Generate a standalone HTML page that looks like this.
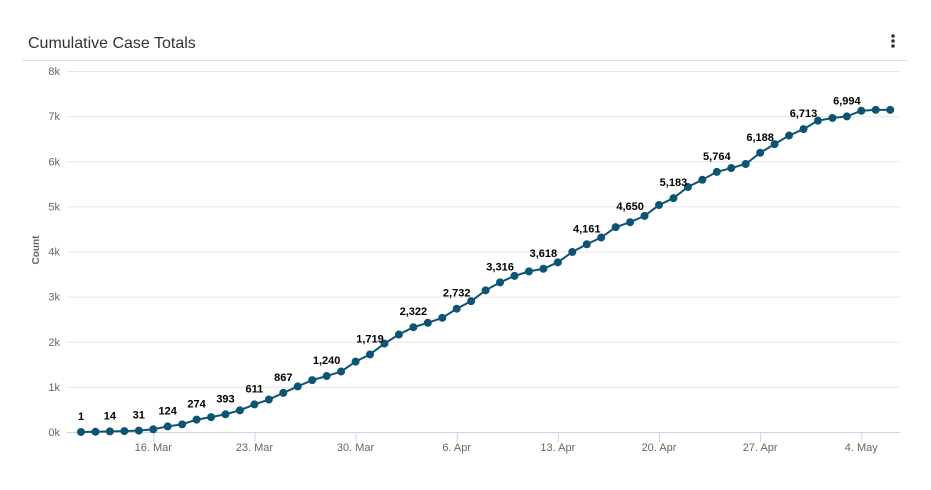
<!DOCTYPE html>
<html><head><meta charset="utf-8"><style>
body{margin:0;background:#fff;width:931px;height:485px;overflow:hidden;font-family:"Liberation Sans",sans-serif}
</style></head><body>
<svg width="931" height="485" xmlns="http://www.w3.org/2000/svg" font-family="Liberation Sans, sans-serif">
<text x="28" y="48" font-size="16" fill="#333">Cumulative Case Totals</text>
<circle cx="893" cy="36" r="1.8" fill="#333"/><circle cx="893" cy="41" r="1.8" fill="#333"/><circle cx="893" cy="46" r="1.8" fill="#333"/>
<line x1="22" y1="60.5" x2="908" y2="60.5" stroke="#e0e0e0"/>
<g id="grid" stroke="#e6e6e6"></g>
<g id="yl" font-size="11" fill="#666" text-anchor="end"></g>
<text transform="translate(39,250) rotate(-90)" font-size="10" font-weight="bold" fill="#666" text-anchor="middle">Count</text>
<line x1="67" y1="432.5" x2="900" y2="432.5" stroke="#ccd6eb"/>
<g id="xt" stroke="#ccd6eb"></g>
<g id="xl" font-size="11" fill="#666" text-anchor="middle"></g>
<polyline id="ln" fill="none" stroke="#0d5474" stroke-width="2"/>
<g id="pts" fill="#0d5474"></g>
<g id="lb" font-size="11" font-weight="bold" fill="#000" text-anchor="middle"></g>
</svg>
<script>
const ns="http://www.w3.org/2000/svg";
function el(p,t,a,txt){const e=document.createElementNS(ns,t);for(const k in a)e.setAttribute(k,a[k]);if(txt!=null)e.textContent=txt;document.getElementById(p).appendChild(e);}
const Y=v=>432-v*0.04512;
for(let k=1;k<=8;k++){el("grid","line",{x1:67,x2:900,y1:Y(k*1000)+.5,y2:Y(k*1000)+.5});}
for(let k=0;k<=8;k++){el("yl","text",{x:60,y:Y(k*1000)+4},k+"k");}
const X=i=>81+14.45*i;
const dl=["16. Mar","23. Mar","30. Mar","6. Apr","13. Apr","20. Apr","27. Apr","4. May"];
dl.forEach((d,j)=>{const x=X(5+7*j);el("xt","line",{x1:x+.5,x2:x+.5,y1:432,y2:442});el("xl","text",{x:x,y:451},d);});
const v=[1,5,14,20,31,60,124,170,274,330,393,480,611,720,867,1010,1150,1240,1340,1560,1719,1960,2160,2322,2420,2530,2732,2900,3140,3316,3460,3560,3618,3760,3990,4161,4310,4540,4650,4790,5030,5183,5430,5590,5764,5850,5940,6188,6380,6570,6713,6900,6960,6994,7120,7140,7140];
document.getElementById("ln").setAttribute("points",v.map((a,i)=>X(i)+","+Y(a)).join(" "));
v.forEach((a,i)=>el("pts","circle",{cx:X(i),cy:Y(a),r:4}));
const lab=[0,2,4,6,8,10,12,14,17,20,23,26,29,32,35,38,41,44,47,50,53];
lab.forEach(i=>el("lb","text",{x:X(i),y:Y(v[i])-12},v[i].toLocaleString("en-US")));
</script>
</body></html>
